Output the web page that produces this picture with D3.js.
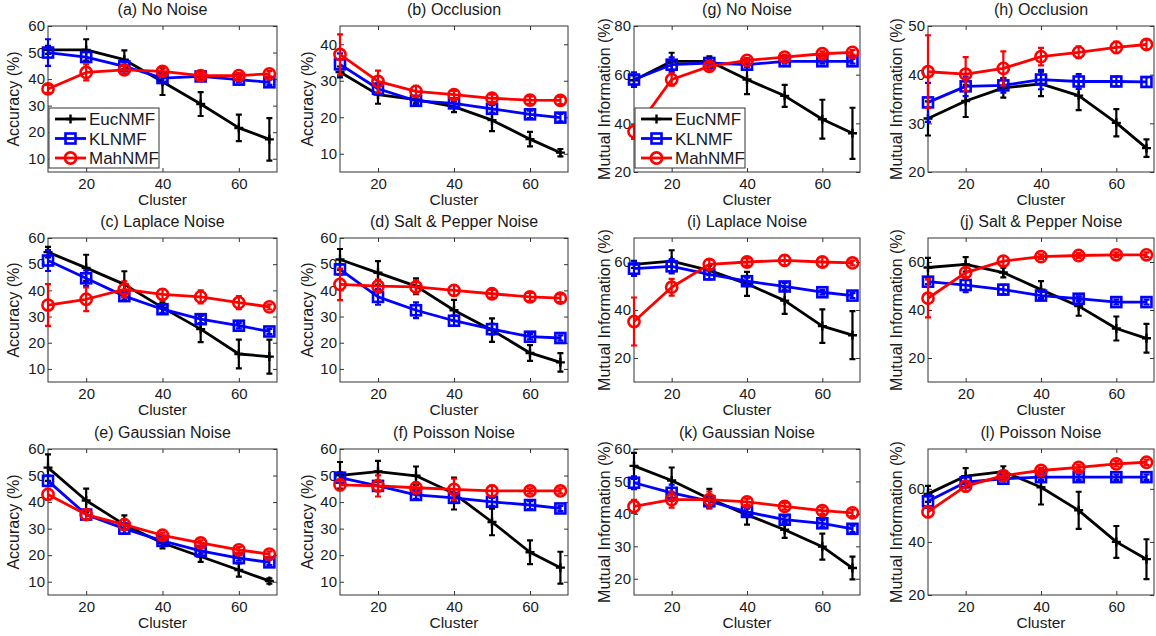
<!DOCTYPE html>
<html><head><meta charset="utf-8">
<script src="https://cdn.jsdelivr.net/npm/d3@7"></script>
<style>
body{margin:0;background:#fff}
svg{display:block}
text{font-family:"Liberation Sans",Arial,Helvetica,sans-serif;fill:#1a1a1a}
.tick text{font-size:15px}
.ttl{font-size:16px}
.xl{font-size:15.5px}
.yl{font-size:16px}
.leg{font-size:17px}
</style>
</head><body>
<svg id="c" width="1156" height="636"></svg>
<script>
// ---------------- data ----------------
const clusters = [10, 20, 30, 40, 50, 60, 68];
const xDomain = [10, 70];
const xTicks = [20, 40, 60];
const seriesNames = ["EucNMF", "KLNMF", "MahNMF"];
const accLabel = "Accuracy (%)";
const miLabel = "Mutual Information (%)";
const xLabel = "Cluster";

// (a) No Noise - Accuracy
const a_title = "(a) No Noise";
const a_yDomain = [5, 60];
const a_yTicks = [10, 20, 30, 40, 50, 60];
const a_euc = [51, 51, 47.3, 39, 30.6, 21.6, 17.3];
const a_euc_err = [1.5, 4, 3.5, 5, 4.5, 5, 8];
const a_kl = [50, 48.3, 44.8, 40.4, 41, 39.8, 38.8];
const a_kl_err = [5, 2, 1.5, 1.5, 1, 1, 1];
const a_mah = [36.3, 42.5, 43.5, 42.9, 41.3, 41.3, 42];
const a_mah_err = [1.5, 3, 1.5, 1.5, 1, 1, 1];

// (b) Occlusion - Accuracy
const b_title = "(b) Occlusion";
const b_yDomain = [5, 45];
const b_yTicks = [10, 20, 30, 40];
const b_euc = [32.4, 26.2, 24.8, 22.9, 19.2, 14, 10.3];
const b_euc_err = [1.5, 2.5, 1, 1.5, 3, 2, 1];
const b_kl = [34.5, 27.8, 24.5, 23.8, 22.3, 20.8, 19.9];
const b_kl_err = [3, 1.5, 1, 1, 1, 1, 1];
const b_mah = [37.2, 29.8, 27.1, 26.2, 25.2, 24.7, 24.6];
const b_mah_err = [5.5, 3, 1.5, 1, 1, 1, 1];

// (c) Laplace Noise - Accuracy
const c_title = "(c) Laplace Noise";
const c_yDomain = [5, 60];
const c_yTicks = [10, 20, 30, 40, 50, 60];
const c_euc = [54.6, 48.6, 42.3, 33.4, 25.2, 15.7, 14.7];
const c_euc_err = [2, 5, 5, 2, 5, 5.5, 6.5];
const c_kl = [51.4, 44.6, 37.8, 32.8, 29, 26.5, 24.3];
const c_kl_err = [4, 3, 1.5, 1.5, 1.5, 1, 1];
const c_mah = [34.4, 36.6, 40.4, 38.5, 37.5, 35.3, 33.7];
const c_mah_err = [8, 4.5, 3, 2, 2.5, 2.5, 1];

// (d) Salt & Pepper Noise - Accuracy
const d_title = "(d) Salt & Pepper Noise";
const d_yDomain = [5, 60];
const d_yTicks = [10, 20, 30, 40, 50, 60];
const d_euc = [51.8, 46.7, 41.6, 32.4, 24.8, 16.1, 12.5];
const d_euc_err = [4, 4.5, 3, 4, 4.5, 3, 3.5];
const d_kl = [48, 37.5, 32.4, 28.4, 25.2, 22.3, 21.8];
const d_kl_err = [2, 3, 3, 2, 2, 1, 1];
const d_mah = [42.3, 41.6, 41.3, 40, 38.7, 37.5, 37];
const d_mah_err = [6, 2.5, 2.5, 2, 1.5, 1.5, 1.5];

// (e) Gaussian Noise - Accuracy
const e_title = "(e) Gaussian Noise";
const e_yDomain = [5, 60];
const e_yTicks = [10, 20, 30, 40, 50, 60];
const e_euc = [53, 40.6, 31.5, 24.6, 19.5, 14.4, 10.3];
const e_euc_err = [5, 4.5, 3.5, 2, 2, 2.5, 1];
const e_kl = [48, 35.3, 30, 25.4, 21.6, 18.9, 17.3];
const e_kl_err = [2, 2, 2, 1, 1, 1, 1];
const e_mah = [42.9, 35.3, 31.5, 27.5, 24.6, 22, 20.4];
const e_mah_err = [2, 2, 2, 1, 1, 1, 1];

// (f) Poisson Noise - Accuracy
const f_title = "(f) Poisson Noise";
const f_yDomain = [5, 60];
const f_yTicks = [10, 20, 30, 40, 50, 60];
const f_euc = [50.1, 51.5, 49.9, 43.2, 32.5, 21.1, 15.3];
const f_euc_err = [5, 4, 3.5, 6, 5, 4.5, 6];
const f_kl = [49.2, 46.1, 42.7, 41.6, 40.1, 38.9, 37.6];
const f_kl_err = [2, 2, 1.5, 1.5, 1.5, 1.5, 1];
const f_mah = [46.5, 46.1, 45.4, 44.8, 44.2, 44.2, 44.2];
const f_mah_err = [2, 4, 2, 4, 2, 1, 1];

// (g) No Noise - Mutual Information
const g_title = "(g) No Noise";
const g_yDomain = [20, 80];
const g_yTicks = [20, 40, 60, 80];
const g_euc = [57.7, 65.5, 65.5, 58, 51.3, 41.7, 35.9];
const g_euc_err = [2, 3.5, 2, 6, 4.5, 8, 10.5];
const g_kl = [58, 64.1, 64.8, 64.1, 65.5, 65.5, 65.5];
const g_kl_err = [3, 3, 1.5, 1, 1, 1, 1];
const g_mah = [36.6, 58, 63.4, 65.9, 67.2, 68.6, 69.2];
const g_mah_err = [3, 2.5, 1.5, 1, 1, 1, 1];

// (h) Occlusion - Mutual Information
const h_title = "(h) Occlusion";
const h_yDomain = [20, 50];
const h_yTicks = [20, 30, 40, 50];
const h_euc = [31, 34.6, 37.3, 38.1, 35.7, 30.1, 24.9];
const h_euc_err = [3.5, 3.3, 2, 2.5, 3, 2.8, 1.8];
const h_kl = [34.3, 37.6, 37.8, 39, 38.6, 38.6, 38.5];
const h_kl_err = [4, 2, 1.5, 2, 1.5, 1, 1];
const h_mah = [40.6, 40.1, 41.3, 43.7, 44.6, 45.6, 46.2];
const h_mah_err = [7.5, 3.5, 3.5, 1.8, 1.2, 1.2, 1];

// (i) Laplace Noise - Mutual Information
const i_title = "(i) Laplace Noise";
const i_yDomain = [10, 70];
const i_yTicks = [20, 40, 60];
const i_euc = [59, 60.4, 56.5, 50.9, 43.9, 33.3, 29.5];
const i_euc_err = [1.5, 4.5, 2, 5, 5.5, 7, 10];
const i_kl = [57.2, 58.2, 54.8, 52, 49.8, 47.4, 46];
const i_kl_err = [3, 3, 2, 1.5, 1.5, 1, 1];
const i_mah = [35.2, 49.5, 59, 60, 60.7, 60, 59.6];
const i_mah_err = [10, 3.5, 2, 1.5, 2, 2, 1];

// (j) Salt & Pepper Noise - Mutual Information
const j_title = "(j) Salt & Pepper Noise";
const j_yDomain = [10, 70];
const j_yTicks = [20, 40, 60];
const j_euc = [57.7, 59, 55.6, 48.5, 41.6, 32.3, 28.2];
const j_euc_err = [4, 3, 2, 3.5, 4, 5, 6];
const j_kl = [51.8, 50.4, 48.5, 46, 44.7, 43.3, 43.3];
const j_kl_err = [1, 3, 2, 1.5, 1, 1, 1];
const j_mah = [44.9, 55.6, 60.4, 62.2, 62.7, 63, 63];
const j_mah_err = [8, 2, 2, 1, 1, 1, 1];

// (k) Gaussian Noise - Mutual Information
const k_title = "(k) Gaussian Noise";
const k_yDomain = [15, 60];
const k_yTicks = [20, 30, 40, 50, 60];
const k_euc = [54.8, 50.3, 44.7, 39.7, 35.1, 29.9, 23.3];
const k_euc_err = [4, 4, 3, 3, 2.5, 4, 3.5];
const k_kl = [49.6, 46.5, 43.9, 40.6, 38.2, 37.1, 35.4];
const k_kl_err = [2, 2.5, 2, 1, 1, 1, 1];
const k_mah = [42.3, 44.4, 44.4, 43.7, 42.3, 41, 40.3];
const k_mah_err = [2, 2.5, 2.5, 1, 1, 1, 1];

// (l) Poisson Noise - Mutual Information
const l_title = "(l) Poisson Noise";
const l_yDomain = [20, 75];
const l_yTicks = [20, 40, 60];
const l_euc = [58.1, 64.8, 66.5, 60.6, 51.9, 40, 33.5];
const l_euc_err = [3, 3, 2, 6.5, 7, 6, 7.5];
const l_kl = [55.3, 62.5, 63.8, 64.4, 64.4, 64.4, 64.4];
const l_kl_err = [2.5, 2, 1, 1, 1, 1, 1];
const l_mah = [51.3, 61, 65, 66.9, 68.1, 69.4, 70];
const l_mah_err = [2, 2, 1, 1, 1, 1, 1];

// ---------------- panel table built from the arrays ----------------
function mk(title, yDomain, yTicks, label, euc, eucE, kl, klE, mah, mahE, legend) {
  return {title, yDomain, yTicks, label, legend,
    series: [{name: seriesNames[0], v: euc, e: eucE},
             {name: seriesNames[1], v: kl, e: klE},
             {name: seriesNames[2], v: mah, e: mahE}]};
}
const P = {
  a: mk(a_title, a_yDomain, a_yTicks, accLabel, a_euc, a_euc_err, a_kl, a_kl_err, a_mah, a_mah_err, true),
  b: mk(b_title, b_yDomain, b_yTicks, accLabel, b_euc, b_euc_err, b_kl, b_kl_err, b_mah, b_mah_err, false),
  c: mk(c_title, c_yDomain, c_yTicks, accLabel, c_euc, c_euc_err, c_kl, c_kl_err, c_mah, c_mah_err, false),
  d: mk(d_title, d_yDomain, d_yTicks, accLabel, d_euc, d_euc_err, d_kl, d_kl_err, d_mah, d_mah_err, false),
  e: mk(e_title, e_yDomain, e_yTicks, accLabel, e_euc, e_euc_err, e_kl, e_kl_err, e_mah, e_mah_err, false),
  f: mk(f_title, f_yDomain, f_yTicks, accLabel, f_euc, f_euc_err, f_kl, f_kl_err, f_mah, f_mah_err, false),
  g: mk(g_title, g_yDomain, g_yTicks, miLabel, g_euc, g_euc_err, g_kl, g_kl_err, g_mah, g_mah_err, true),
  h: mk(h_title, h_yDomain, h_yTicks, miLabel, h_euc, h_euc_err, h_kl, h_kl_err, h_mah, h_mah_err, false),
  i: mk(i_title, i_yDomain, i_yTicks, miLabel, i_euc, i_euc_err, i_kl, i_kl_err, i_mah, i_mah_err, false),
  j: mk(j_title, j_yDomain, j_yTicks, miLabel, j_euc, j_euc_err, j_kl, j_kl_err, j_mah, j_mah_err, false),
  k: mk(k_title, k_yDomain, k_yTicks, miLabel, k_euc, k_euc_err, k_kl, k_kl_err, k_mah, k_mah_err, false),
  l: mk(l_title, l_yDomain, l_yTicks, miLabel, l_euc, l_euc_err, l_kl, l_kl_err, l_mah, l_mah_err, false)
};

// ---------------- layout & style ----------------
const grid = [["a","b","g","h"],["c","d","i","j"],["e","f","k","l"]];
const colX = [[48,277],[340,568],[634,860],[928,1154]];
const rowY = [[26,172],[238,382],[449,595]];
const yLabelX = [13, 307, 604, 896];
const color = {EucNMF: "#000000", KLNMF: "#0000ff", MahNMF: "#ff0000"};
const LW = 2.8;

const svg = d3.select("#c");
svg.append("rect").attr("width",1156).attr("height",636).attr("fill","#fff");

function marker(g, name, cx, cy) {
  const col = color[name];
  if (name === "EucNMF") {
    g.append("path").attr("d", `M${cx-4.5},${cy}H${cx+4.5}M${cx},${cy-4.5}V${cy+4.5}`)
      .attr("stroke", col).attr("stroke-width", 2.4).attr("fill","none");
  } else if (name === "KLNMF") {
    g.append("rect").attr("x", cx-5).attr("y", cy-5).attr("width",10).attr("height",10)
      .attr("stroke", col).attr("stroke-width", 2.6).attr("fill","none");
  } else {
    g.append("circle").attr("cx", cx).attr("cy", cy).attr("r", 5.6)
      .attr("stroke", col).attr("stroke-width", 2.6).attr("fill","none");
  }
}

function drawPanel(p, r, c) {
  const [x0, x1] = colX[c], [y0, y1] = rowY[r];
  const x = d3.scaleLinear().domain(xDomain).range([x0, x1]);
  const y = d3.scaleLinear().domain(p.yDomain).range([y1, y0]);
  const g = svg.append("g");

  // axes (ticks inward, box on)
  const ax = g.append("g");
  ax.append("g").attr("transform", `translate(0,${y1})`)
    .call(d3.axisBottom(x).tickValues(xTicks).tickFormat(d3.format("d")).tickSizeInner(-4).tickSizeOuter(0).tickPadding(6));
  ax.append("g").attr("transform", `translate(0,${y0})`)
    .call(d3.axisTop(x).tickValues(xTicks).tickFormat("").tickSizeInner(-4).tickSizeOuter(0));
  ax.append("g").attr("transform", `translate(${x0},0)`)
    .call(d3.axisLeft(y).tickValues(p.yTicks).tickFormat(d3.format("d")).tickSizeInner(-4).tickSizeOuter(0).tickPadding(3));
  ax.append("g").attr("transform", `translate(${x1},0)`)
    .call(d3.axisRight(y).tickValues(p.yTicks).tickFormat("").tickSizeInner(-4).tickSizeOuter(0));
  ax.selectAll(".domain").remove();
  ax.selectAll(".tick line").attr("stroke", "#333");
  ax.selectAll("g").attr("font-size", null).attr("font-family", null);
  g.append("rect").attr("x", x0).attr("y", y0).attr("width", x1-x0).attr("height", y1-y0)
    .attr("fill","none").attr("stroke","#333").attr("stroke-width",1);

  // titles & labels
  g.append("text").attr("class","ttl").attr("x", (x0+x1)/2).attr("y", y0-11)
    .attr("text-anchor","middle").text(p.title);
  g.append("text").attr("class","xl").attr("x", (x0+x1)/2).attr("y", y1+33)
    .attr("text-anchor","middle").text(xLabel);
  g.append("text").attr("class","yl")
    .attr("transform", `translate(${yLabelX[c]},${(y0+y1)/2}) rotate(-90)`)
    .attr("text-anchor","middle").attr("dy","0.35em").text(p.label);

  // series
  const line = d3.line().x((d,i) => x(clusters[i])).y(d => y(d));
  p.series.forEach(s => {
    const col = color[s.name];
    const sg = g.append("g");
    sg.append("path").attr("d", line(s.v)).attr("fill","none")
      .attr("stroke", col).attr("stroke-width", LW).attr("stroke-linejoin","round");
    s.v.forEach((v, i) => {
      const cx = x(clusters[i]), lo = y(v - s.e[i]), hi = y(v + s.e[i]);
      sg.append("path")
        .attr("d", `M${cx},${lo}V${hi}M${cx-3},${lo}H${cx+3}M${cx-3},${hi}H${cx+3}`)
        .attr("stroke", col).attr("stroke-width", 2.2).attr("fill","none");
      marker(sg, s.name, cx, y(v));
    });
  });

  // legend
  if (p.legend) {
    const lx = x0 + 1, ly = y1 - 64, lw = 110, lh = 60;
    const lg = g.append("g");
    lg.append("rect").attr("x", lx).attr("y", ly).attr("width", lw).attr("height", lh)
      .attr("fill","#fff").attr("stroke","#333").attr("stroke-width",1);
    seriesNames.forEach((n, k) => {
      const yy = ly + 11 + k * 19.5;
      lg.append("line").attr("x1", lx+6).attr("x2", lx+37).attr("y1", yy).attr("y2", yy)
        .attr("stroke", color[n]).attr("stroke-width", LW);
      marker(lg, n, lx + 21.5, yy);
      lg.append("text").attr("class","leg").attr("x", lx+40).attr("y", yy).attr("dy","0.36em").text(n);
    });
  }
}

grid.forEach((row, r) => row.forEach((id, c) => drawPanel(P[id], r, c)));
</script>
</body></html>
